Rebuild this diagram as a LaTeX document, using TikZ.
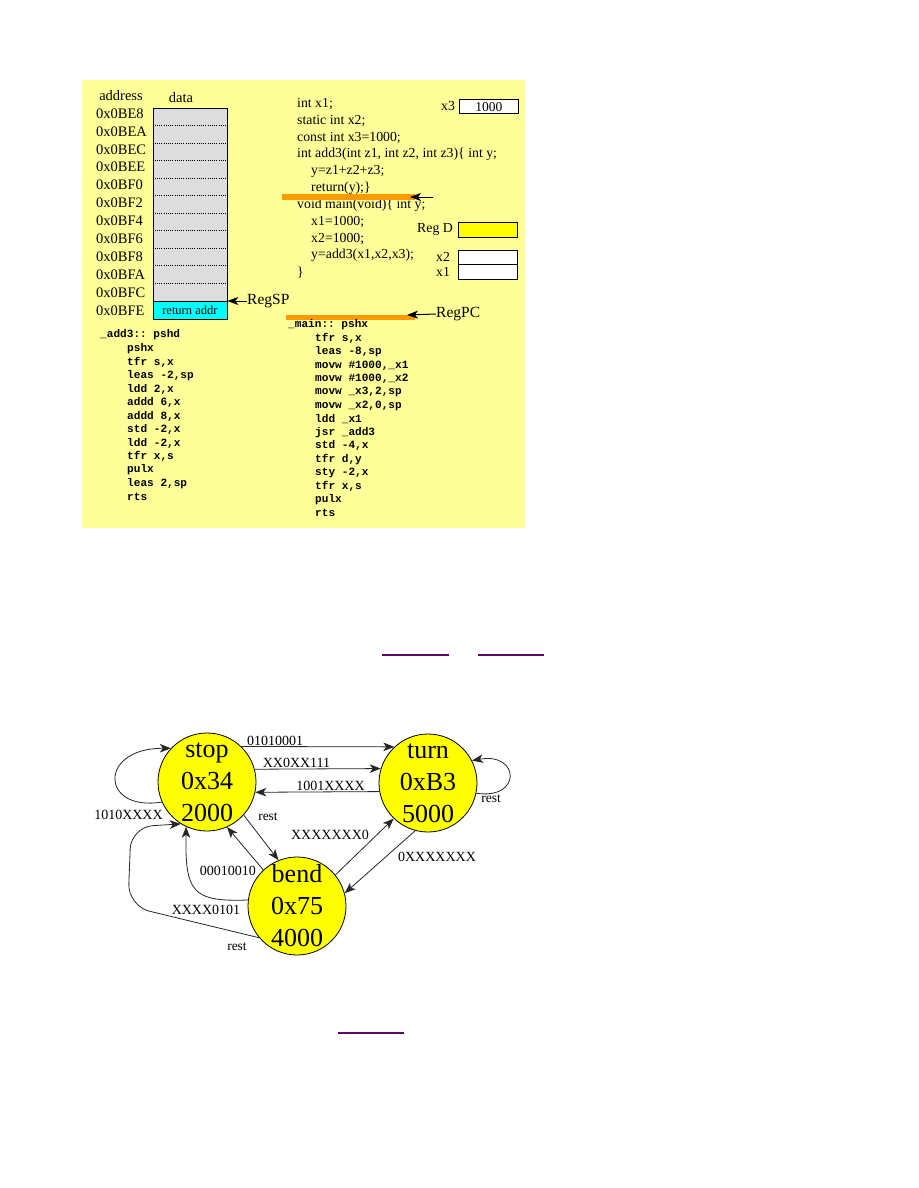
\documentclass[tikz,border=0pt]{standalone}
\usepackage{fontspec}
\setmainfont{Liberation Serif}
\setmonofont{Liberation Mono}
\usetikzlibrary{arrows.meta}
\definecolor{panel}{RGB}{255,255,153}
\definecolor{memgray}{RGB}{221,221,221}
\definecolor{memcyan}{RGB}{0,255,255}
\definecolor{barorange}{RGB}{255,153,0}
\definecolor{fsmyellow}{RGB}{255,255,0}
\definecolor{linkpurple}{RGB}{102,0,102}
\begin{document}
\begin{tikzpicture}[x=1pt,y=-1pt,
  lbl/.style={inner sep=0pt, font=\fontsize{14}{16}\selectfont},
  addrlbl/.style={inner sep=0pt, anchor=west, font=\fontsize{14.5}{16}\selectfont},
  codetxt/.style={anchor=west, inner sep=0pt, font=\fontsize{13.8}{16}\selectfont},
  asm/.style={anchor=west, inner sep=0pt, font=\ttfamily\bfseries\fontsize{11.1}{13}\selectfont},
  regbox/.style={draw, line width=0.8pt, inner sep=0pt, minimum width=59pt, minimum height=14.5pt, anchor=north west},
  state/.style={circle, draw, line width=0.8pt, fill=fsmyellow, minimum size=98pt, inner sep=0pt, align=center, font=\fontsize{26}{32}\selectfont},
  trans/.style={draw=black!85, line width=0.8pt, -{Stealth[length=11pt,width=8.5pt,inset=3pt]}},
  regarrow/.style={line width=1pt, -{Stealth[length=11pt,width=8pt,inset=3pt]}},
  bar/.style={draw=barorange, line width=5.5pt},
  link/.style={draw=linkpurple, line width=1.5pt},
  restlbl/.style={inner sep=0pt, font=\fontsize{13.5}{15}\selectfont}
]
\useasboundingbox (0,0) rectangle (918,1188);
\fill[white] (0,0) rectangle (918,1188);

% ---------- top panel ----------
\fill[panel] (82,80) rectangle (525,528);

% memory table
\node[lbl, font=\fontsize{14.5}{16}\selectfont] (hdraddr) at (121,96) {address};
\node[lbl, font=\fontsize{14.5}{16}\selectfont] (hdrdata) at (181,98) {data};
\node[draw, line width=0.8pt, fill=memgray, minimum width=74pt, minimum height=210.5pt, anchor=north west, inner sep=0pt] (mem) at (152.5,108) {};
\foreach \k in {1,...,10} {
  \draw[line width=0.8pt, dash pattern=on 1pt off 1.2pt] (152.5,108+17.5*\k) -- (228,108+17.5*\k);
}
\node[draw, line width=0.8pt, fill=memcyan, minimum width=74pt, minimum height=17.5pt, anchor=north west, inner sep=0pt, font=\fontsize{12.5}{14}\selectfont] (retrow) at (152.5,301) {return addr};
\draw[line width=0.8pt, dash pattern=on 1pt off 1.2pt] (152.5,301) -- (228,301);
\foreach \a [count=\i from 0] in {0x0BE8,0x0BEA,0x0BEC,0x0BEE,0x0BF0,0x0BF2,0x0BF4,0x0BF6,0x0BF8,0x0BFA,0x0BFC,0x0BFE} {
  \node[addrlbl] (addr\i) at (96,113.5+17.9*\i) {\a};
}
\node[lbl, anchor=west, font=\fontsize{15.5}{17}\selectfont] (regsp) at (247,301) {RegSP};
\draw[regarrow] (regsp.west) -- (retrow.north east);

% C code
\node[codetxt] (c1) at (297,104) {int x1;};
\node[codetxt] (c2) at (297,120.9) {static int x2;};
\node[codetxt] (c3) at (297,137.7) {const int x3=1000;};
\node[codetxt] (c4) at (297,154.6) {int add3(int z1, int z2, int z3)\{ int y;};
\node[codetxt] (c5) at (311,171.4) {y=z1+z2+z3;};
\node[codetxt] (c6) at (311,188.3) {return(y);\}};
\node[codetxt] (c7) at (297,205.1) {void main(void)\{ int y;};
\node[codetxt] (c8) at (311,222) {x1=1000;};
\node[codetxt] (c9) at (311,238.8) {x2=1000;};
\node[codetxt] (c10) at (311,255.7) {y=add3(x1,x2,x3);};
\node[codetxt] (c11) at (297,272.5) {\}};

% registers / variables
\node[codetxt] (x3lbl) at (441,106) {x3};
\node[regbox, fill=white, font=\fontsize{13.5}{16}\selectfont] (x3box) at (459,99) {1000};
\node[codetxt] (regdlbl) at (417,229.5) {Reg D};
\node[regbox, fill=fsmyellow] (regdbox) at (457.5,222) {};
\node[codetxt] (x2lbl) at (436,256.5) {x2};
\node[codetxt] (x1lbl) at (436,272) {x1};
\node[regbox, fill=white] (x2box) at (457.5,249.5) {};
\node[regbox, fill=white] (x1box) at (457.5,264) {};

% orange bars and arrows
\coordinate (bar1a) at (282,197);
\coordinate (bar1b) at (415,197);
\draw[bar] (bar1a) -- (bar1b);
\coordinate (pc1tail) at (433,197);
\coordinate (pc1tip) at (410,197);
\draw[regarrow] (pc1tail) -- (pc1tip);

\coordinate (bar2a) at (286,317.5);
\coordinate (bar2b) at (415,317.5);
\draw[bar] (bar2a) -- (bar2b);
\node[lbl, anchor=west, font=\fontsize{15.5}{17}\selectfont] (regpc) at (436,314) {RegPC};
\coordinate (pc2tip) at (407,315);
\draw[regarrow] (regpc.west) -- (pc2tip);

% assembly
\node[asm] (asmL0) at (100,335) {\_add3:: pshd};
\foreach \t [count=\i] in {pshx,{tfr s,x},{leas -2,sp},{ldd 2,x},{addd 6,x},{addd 8,x},{std -2,x},{ldd -2,x},{tfr x,s},pulx,{leas 2,sp},rts} {
  \node[asm] (asmL\i) at (127,335+13.5*\i) {\t};
}
\node[asm] (asmR0) at (288,325) {\_main:: pshx};
\foreach \t [count=\i] in {{tfr s,x},{leas -8,sp},{movw \#1000,\_x1},{movw \#1000,\_x2},{movw \_x3,2,sp},{movw \_x2,0,sp},{ldd \_x1},{jsr \_add3},{std -4,x},{tfr d,y},{sty -2,x},{tfr x,s},pulx,rts} {
  \node[asm] (asmR\i) at (315,325+13.43*\i) {\t};
}

% ---------- link underlines ----------
\coordinate (u1a) at (382,655); \coordinate (u1b) at (449,655);
\coordinate (u2a) at (478,655); \coordinate (u2b) at (544,655);
\coordinate (u3a) at (338,1033); \coordinate (u3b) at (404,1033);
\draw[link] (u1a) -- (u1b);
\draw[link] (u2a) -- (u2b);
\draw[link] (u3a) -- (u3b);

% ---------- state machine ----------
\node[state] (stop) at (207,782) {stop\\0x34\\2000};
\node[state] (turn) at (428,783) {turn\\0xB3\\5000};
\node[state] (bend) at (297,906) {bend\\0x75\\4000};

\draw[trans] (stop.46) -- (turn.133);
\draw[trans] (stop.15.5) -- (turn.163.5);
\draw[trans] (turn.190.5) -- (stop.348.5);
\draw[trans] (stop.204) .. controls (100,812) and (98,748) .. (stop.137);
\draw[trans] (turn.348.5) .. controls (522,800) and (520,752) .. (turn.27);
\draw[trans] (stop.318.5) -- (bend.112);
\draw[trans] (bend.133.5) -- (stop.294.5);
\draw[trans] (bend.173) .. controls (192,902) and (185,892) .. (stop.245);
\draw[trans, rounded corners=22pt] (bend.220) -- (128,906) -- (131,827) -- (stop.238.5);
\draw[trans] (bend.39) -- (turn.226.5);
\draw[trans] (turn.255) -- (bend.15);

\node[lbl] (l1) at (275,741) {01010001};
\node[lbl] (l2) at (296.5,762.5) {XX0XX111};
\node[lbl] (l3) at (330.5,786) {1001XXXX};
\node[lbl] (l4) at (128.5,815) {1010XXXX};
\node[restlbl] (l5) at (491,799) {rest};
\node[restlbl] (l6) at (268,817) {rest};
\node[lbl, anchor=east] (l7) at (256,871) {00010010};
\node[lbl] (l8) at (206,910) {XXXX0101};
\node[restlbl] (l9) at (237,947) {rest};
\node[lbl] (l10) at (330,835) {XXXXXXX0};
\node[lbl] (l11) at (437,857) {0XXXXXXX};
\end{tikzpicture}
\end{document}
